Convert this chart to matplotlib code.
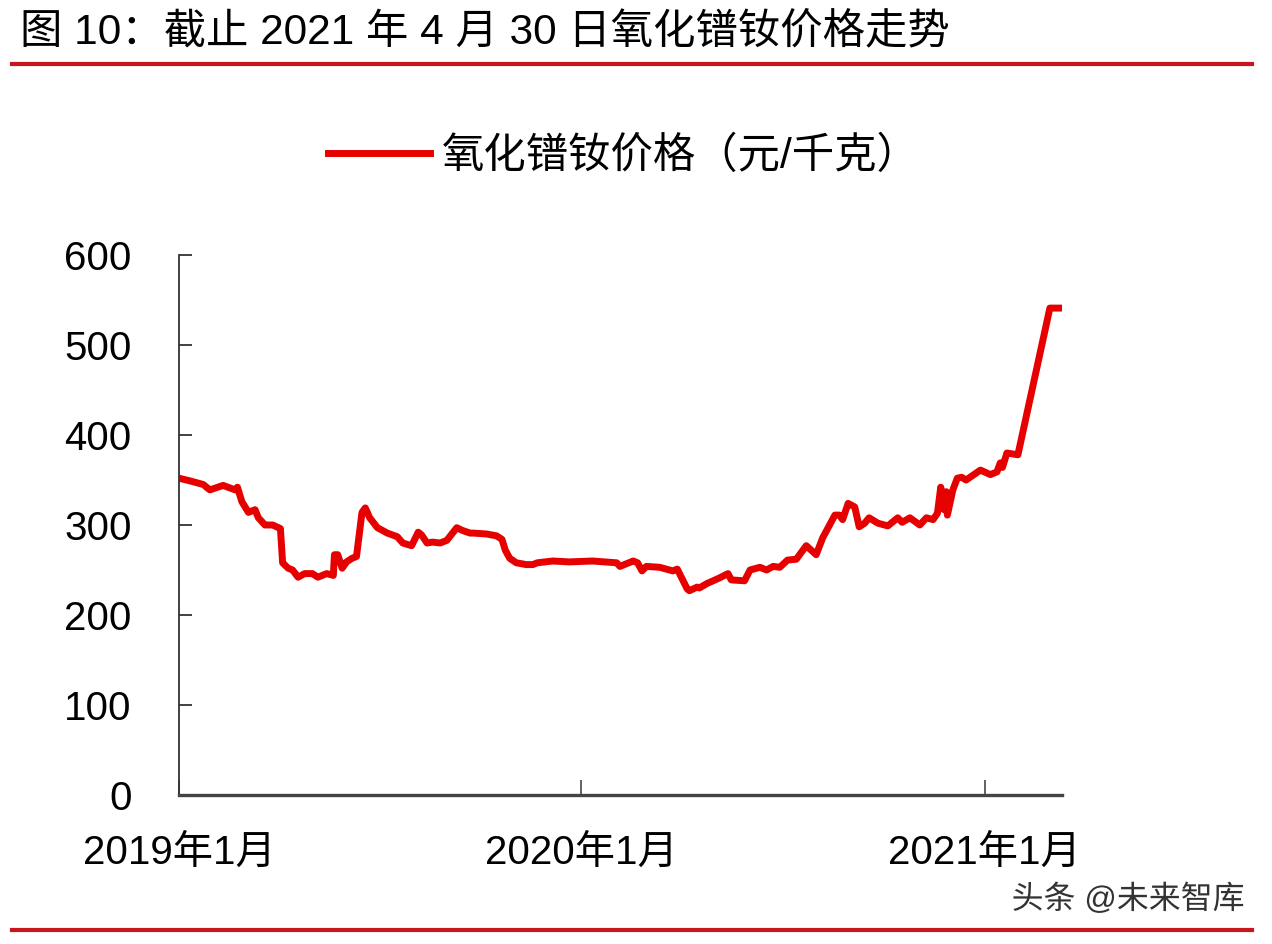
import pandas as pd
import matplotlib
matplotlib.use('Agg')
import matplotlib.pyplot as plt
import matplotlib.patheffects as pe

# days since 2019-01-01 and price (元/千克)
days = [0, 10, 22, 28, 40, 51, 53, 57, 63, 69, 72, 78, 85, 92, 94, 99, 103, 108,
        114, 121, 126, 134, 140, 141, 144, 148, 152, 157, 161, 166, 169, 173, 180,
        189, 198, 203, 211, 217, 220, 225, 230, 237, 243, 252, 257, 264, 267, 279,
        288, 293, 296, 300, 306, 315, 321, 325, 339, 354, 375, 397, 400, 412, 416,
        420, 424, 436, 448, 452, 461, 463, 470, 472, 479, 490, 498, 501, 513, 518,
        527, 533, 539, 545, 552, 560, 569, 578, 584, 595, 599, 602, 607, 613, 617,
        622, 626, 634, 643, 652, 656, 663, 672, 678, 684, 688, 691, 694, 696, 697,
        702, 706, 710, 714, 727, 736, 742, 745, 747, 751, 761, 790, 801]
price = [352, 349, 345, 339, 344, 339, 342, 326, 314, 317, 308, 300, 300, 296, 258,
         252, 250, 242, 246, 246, 242, 246, 244, 267, 267, 252, 259, 263, 265, 314,
         319, 308, 297, 291, 287, 280, 277, 292, 289, 280, 281, 280, 283, 297, 294,
         291, 291, 290, 288, 284, 272, 263, 258, 256, 256, 258, 260, 259, 260, 258,
         254, 260, 258, 249, 254, 253, 249, 251, 229, 227, 231, 230, 235, 241, 246,
         239, 238, 250, 253, 250, 254, 253, 261, 262, 277, 267, 286, 311, 311, 306,
         324, 320, 298, 302, 308, 302, 299, 308, 303, 308, 300, 308, 306, 313, 342,
         317, 337, 311, 339, 352, 353, 350, 361, 356, 359, 369, 364, 380, 378, 541,
         541]
tick_days = [0, 365, 731]
tick_labels = ['2019年1月', '2020年1月', '2021年1月']
yticks = [0, 100, 200, 300, 400, 500, 600]

title = '图 10：截止 2021 年 4 月 30 日氧化镨钕价格走势'
series_name = '氧化镨钕价格（元/千克）'

fam = ['Liberation Sans', 'Noto Sans CJK SC', 'DejaVu Sans']
plt.rcParams['font.family'] = fam

fig = plt.figure(figsize=(12.72, 9.44), dpi=100)
ax = fig.add_axes([179 / 1272, 1 - 795 / 944, (1062 - 179) / 1272, (795 - 255) / 944])

ax.plot(days, price, color='#e60000', lw=5, solid_joinstyle='round',
        label=series_name)
ax.set_xlim(0, 801)
ax.set_ylim(0, 600)
ax.set_yticks(yticks)
ax.set_xticks(tick_days)
ax.set_xticklabels(tick_labels)

for s in ['top', 'right']:
    ax.spines[s].set_visible(False)
ax.spines['left'].set_color('#333333')
ax.spines['left'].set_linewidth(1.3)
ax.spines['bottom'].set_color('#444444')
ax.spines['bottom'].set_linewidth(2.4)
ax.tick_params(axis='y', direction='in', length=9, width=1.3, color='#333333',
               labelsize=29, pad=34)
ax.tick_params(axis='x', direction='in', length=11, width=1.3, color='#555555',
               labelsize=29, pad=28)

ax.legend(loc='center', bbox_to_anchor=(624 / 1272, 1 - 157 / 944),
          bbox_transform=fig.transFigure, frameon=False, fontsize=30.5,
          handlelength=2.4, handletextpad=0.3)

fig.text(20 / 1272, 1 - 33 / 944, title, fontsize=30.5, va='center', ha='left')

# red rules at top and bottom
fig.add_artist(plt.Line2D([12 / 1272, 1252 / 1272], [1 - 64 / 944] * 2,
                          color='#c8161d', lw=3))
fig.add_artist(plt.Line2D([12 / 1272, 1252 / 1272], [1 - 930 / 944] * 2,
                          color='#c8161d', lw=3))

fig.text(1245 / 1272, 1 - 900 / 944, '头条 @未来智库', fontsize=23, ha='right',
         va='center', color='#333333',
         path_effects=[pe.withStroke(linewidth=3, foreground='white')])

fig.savefig('out.png', dpi=100, facecolor='white')
